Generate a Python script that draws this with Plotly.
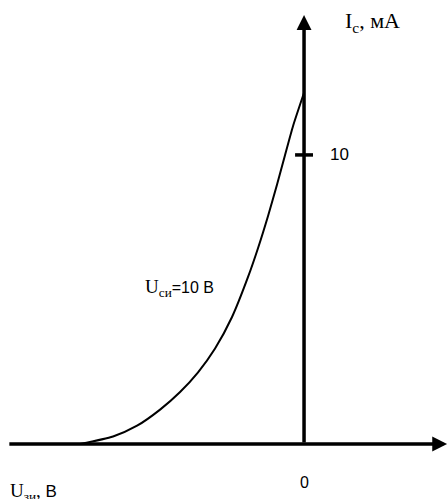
import plotly.graph_objects as go

# Transfer characteristic Ic(Uзи) at Uси = 10 В
u_gs = [-4.0, -3.411, -2.982, -2.571, -2.214, -1.893, -1.589, -1.286, -1.0,
        -0.821, -0.643, -0.482, -0.339, -0.196, 0.0]
i_d = [0.0, 0.260, 0.633, 1.190, 1.799, 2.481, 3.304, 4.394, 5.779,
       6.782, 7.889, 8.976, 10.0, 11.003, 12.15]

tick_vals = [10]
tick_text = ["10"]
x_range = [-5.43, 2.571]
y_range = [-1.903, 15.36]
x_axis_start = -5.29
x_axis_end = 2.555
y_axis_end = 14.84

SERIF = "Liberation Serif"
SANS = "Liberation Sans"

fig = go.Figure()
fig.add_trace(go.Scatter(
    x=u_gs, y=i_d, mode="lines",
    line=dict(color="black", width=2, shape="spline", smoothing=0.6),
    hoverinfo="skip", showlegend=False,
))

annotations = [
    # horizontal axis with arrow
    dict(x=x_axis_end, y=0, ax=x_axis_start, ay=0, xref="x", yref="y",
         axref="x", ayref="y", showarrow=True, arrowhead=2, arrowsize=0.85,
         arrowwidth=3.5, arrowcolor="black", text=""),
    # vertical axis with arrow
    dict(x=0, y=y_axis_end, ax=0, ay=0, xref="x", yref="y",
         axref="x", ayref="y", showarrow=True, arrowhead=2, arrowsize=0.85,
         arrowwidth=3.5, arrowcolor="black", text=""),
    dict(x=0.7, y=14.6, xref="x", yref="y", xanchor="left", yanchor="middle",
         showarrow=False, font=dict(family=SERIF, size=22, color="black"),
         text="I<sub>c</sub>, мА"),
    dict(x=-5.28, y=-1.65, xref="x", yref="y", xanchor="left", yanchor="middle",
         showarrow=False, font=dict(family=SERIF, size=19, color="black"),
         text="U<sub>зи</sub>, <span style='font-family:Liberation Sans;font-size:17px'>В</span>"),
    dict(x=0, y=-1.32, xref="x", yref="y", xanchor="center", yanchor="middle",
         showarrow=False, font=dict(family=SANS, size=16, color="black"),
         text="0"),
    dict(x=-2.88, y=5.38, xref="x", yref="y", xanchor="left", yanchor="middle",
         showarrow=False, font=dict(family=SERIF, size=19, color="black"),
         text="U<sub>си</sub><span style='font-family:Liberation Sans;font-size:16px'>=10 В</span>"),
]
for v, t in zip(tick_vals, tick_text):
    annotations.append(dict(x=0.42, y=v, xref="x", yref="y", xanchor="left",
                            yanchor="middle", showarrow=False,
                            font=dict(family=SANS, size=17, color="black"), text=t))

shapes = [dict(type="line", x0=-0.16, x1=0.16, y0=v, y1=v, xref="x", yref="y",
               line=dict(color="black", width=3.5)) for v in tick_vals]

fig.update_layout(
    width=448, height=499,
    margin=dict(l=0, r=0, t=0, b=0),
    paper_bgcolor="white", plot_bgcolor="white",
    xaxis=dict(range=x_range, visible=False, fixedrange=True),
    yaxis=dict(range=y_range, visible=False, fixedrange=True),
    annotations=annotations, shapes=shapes,
)

fig.write_html("out.html")
